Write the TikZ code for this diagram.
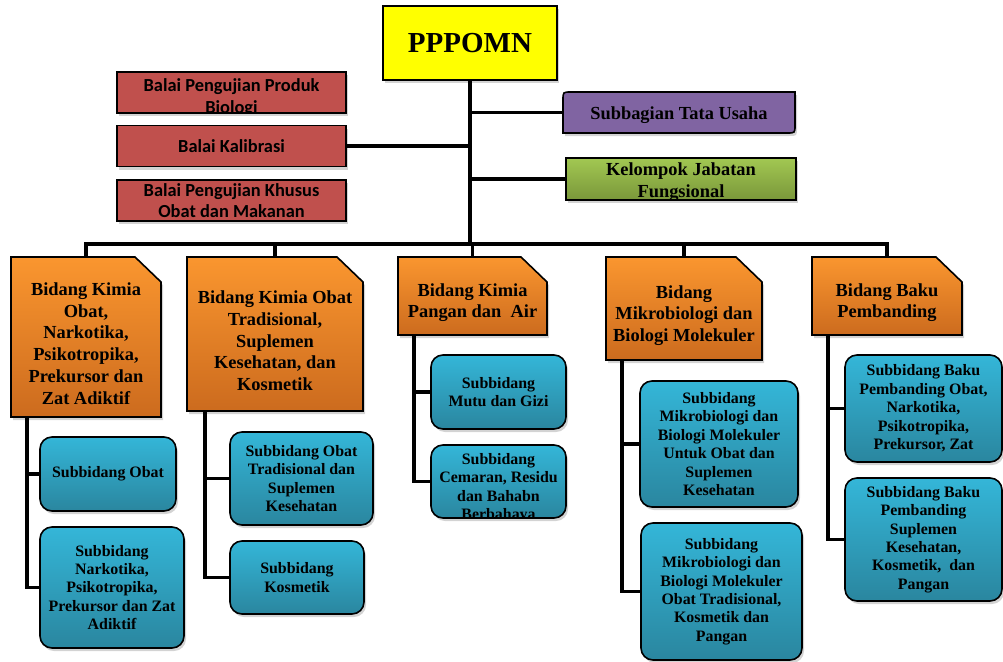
\documentclass[tikz,border=0pt]{standalone}
\usepackage{fontspec}
\setmainfont{Liberation Serif}
\newfontfamily\balaifont{Carlito}
\usetikzlibrary{shadows,backgrounds}

\definecolor{kuning}{HTML}{FFFF00}
\definecolor{merah}{HTML}{C0504D}
\definecolor{ungu}{HTML}{8064A2}
\definecolor{hijauatas}{HTML}{A2C852}
\definecolor{hijaubawah}{HTML}{7A973A}
\definecolor{oranyeatas}{HTML}{FA962F}
\definecolor{oranyebawah}{HTML}{CC6B1E}
\definecolor{biruatas}{HTML}{34B6D8}
\definecolor{birubawah}{HTML}{2A869F}

\begin{document}
\begin{tikzpicture}[x=1pt, y=-1pt,
    bayang/.style={drop shadow={shadow xshift=2pt, shadow yshift=-3pt, opacity=0.35}},
    box/.style={draw=black, line width=1.6pt, inner sep=2pt, align=center, bayang},
    topbox/.style={box, fill=kuning, minimum width=174pt, minimum height=74pt,
        font=\fontsize{29}{34}\selectfont\bfseries},
    balaibox/.style={box, fill=merah, minimum width=229pt, minimum height=41pt,
        font=\balaifont\fontsize{18.4}{21.7}\selectfont\bfseries},
    tatabox/.style={inner sep=2pt, outer sep=0pt, minimum width=232pt, minimum height=41pt,
        text height=18.5pt, font=\fontsize{18.4}{21.7}\selectfont\bfseries},
    tatabg/.style={fill=ungu, draw=black, line width=1.6pt, bayang},
    kjfbox/.style={box, top color=hijauatas, bottom color=hijaubawah,
        minimum width=230pt, minimum height=42pt},
    judul/.style={align=center, inner sep=0pt, font=\fontsize{18.4}{21.7}\selectfont\bfseries},
    bidang/.style={inner sep=0pt, outer sep=0pt, minimum height=78pt},
    bidangbg/.style={draw=black, line width=1.6pt, top color=oranyeatas,
        bottom color=oranyebawah, bayang},
    subbid/.style={box, rounded corners=12pt, top color=biruatas, bottom color=birubawah,
        font=\fontsize{15.9}{18.4}\selectfont\bfseries},
    line/.style={draw=black, line width=3.6pt}
]
\useasboundingbox (0,0) rectangle (1003,661);

\node[topbox] (top) at (470,43) {PPPOMN};

\node[balaibox, path picture={\node[anchor=north, align=center, inner sep=0pt] (balai1txt)
    at ([yshift=-4pt]path picture bounding box.north) {Balai Pengujian Produk\\Biologi};}]
    (balai1) at (231.5,92.5) {};
\node[balaibox] (balai2) at (231.5,146) {Balai Kalibrasi};
\node[balaibox] (balai3) at (231.5,200.5) {Balai Pengujian Khusus\\Obat dan Makanan};

\node[tatabox] (tata) at (679,112.5) {Subbagian Tata Usaha};
\node[kjfbox, path picture={\node[judul] (kjftxt)
    at ([yshift=-3pt]path picture bounding box.center) {Kelompok Jabatan\\Fungsional};}]
    (kjf) at (681,179) {};

\node[bidang, minimum width=150pt, minimum height=160pt] (b1) at (86,337) {};
\node[bidang, minimum width=176pt, minimum height=154pt] (b2) at (275,334) {};
\node[bidang, minimum width=149pt] (b3) at (472.5,296) {};
\node[bidang, minimum width=156pt, minimum height=103pt] (b4) at (684,308.5) {};
\node[bidang, minimum width=150pt] (b5) at (887,296) {};

\begin{scope}[on background layer]
\path[tatabg] (tata.south west) -- ([yshift=-8pt]tata.north west)
    .. controls (tata.north west) .. ([xshift=8pt]tata.north west)
    -- (tata.north east) -- ([yshift=8pt]tata.south east)
    .. controls (tata.south east) .. ([xshift=-8pt]tata.south east) -- cycle;
\foreach \b in {b1,b2,b3,b4,b5}
    \path[bidangbg] (\b.south west) -- (\b.north west) -- ([xshift=-26pt]\b.north east)
        -- ([yshift=-25pt]\b.north east) -- (\b.south east) -- cycle;
\end{scope}

\node[judul] (b1txt) at ([yshift=-6.5pt]b1.center)
    {Bidang Kimia\\Obat,\\Narkotika,\\Psikotropika,\\Prekursor dan\\Zat Adiktif};
\node[judul] (b2txt) at ([yshift=-7pt]b2.center)
    {Bidang Kimia Obat\\Tradisional,\\Suplemen\\Kesehatan, dan\\Kosmetik};
\node[judul] (b3txt) at ([yshift=-6.5pt]b3.center)
    {Bidang Kimia\\Pangan dan\ \ Air};
\node[judul] (b4txt) at ([yshift=-7pt]b4.center)
    {Bidang\\Mikrobiologi dan\\Biologi Molekuler};
\node[judul] (b5txt) at ([yshift=-6.5pt]b5.center)
    {Bidang Baku\\Pembanding};

\node[subbid, minimum width=136pt, minimum height=74pt] (s11) at (108,474)
    {Subbidang Obat};
\node[subbid, minimum width=144pt, minimum height=121pt] (s12) at (112,587.5)
    {Subbidang\\Narkotika,\\Psikotropika,\\Prekursor dan Zat\\Adiktif};
\node[subbid, minimum width=143pt, minimum height=93pt] (s21) at (301.5,478.5)
    {Subbidang Obat\\Tradisional dan\\Suplemen\\Kesehatan};
\node[subbid, minimum width=134pt, minimum height=73pt] (s22) at (297,577.5)
    {Subbidang\\Kosmetik};
\node[subbid, minimum width=135pt, minimum height=74pt] (s31) at (498.5,392)
    {Subbidang\\Mutu dan Gizi};
\node[subbid, minimum width=135pt, minimum height=73pt,
    path picture={\node[anchor=north, align=center, inner sep=0pt] (s32txt)
    at ([yshift=-6pt]path picture bounding box.north)
    {Subbidang\\Cemaran, Residu\\dan Bahabn\\Berbahaya};}] (s32) at (498.5,481.5) {};
\node[subbid, minimum width=158pt, minimum height=126pt] (s41) at (719,444)
    {Subbidang\\Mikrobiologi dan\\Biologi Molekuler\\Untuk Obat dan\\Suplemen\\Kesehatan};
\node[subbid, minimum width=161pt, minimum height=137pt] (s42) at (721.5,591.5)
    {Subbidang\\Mikrobiologi dan\\Biologi Molekuler\\Obat Tradisional,\\Kosmetik dan\\Pangan};
\node[subbid, minimum width=157pt, minimum height=107pt] (s51) at (923.5,408.5)
    {Subbidang Baku\\Pembanding Obat,\\Narkotika,\\Psikotropika,\\Prekursor, Zat};
\node[subbid, minimum width=157pt, minimum height=123pt] (s52) at (923.5,539.5)
    {Subbidang Baku\\Pembanding\\Suplemen\\Kesehatan,\\Kosmetik,\ \ dan\\Pangan};

\coordinate (bus) at (470,244);
\path[line] (top.south) -- (bus);
\path[line] (balai2.east) -- (balai2.east -| top.south);
\path[line] (tata.west) -- (tata.west -| top.south);
\path[line] (kjf.west) -- (kjf.west -| top.south);
\path[line] (b1.north) |- (bus) -| (b5.north);
\foreach \b in {b2,b3,b4}
    \path[line] (\b.north) -- (\b.north |- bus);

\path[line] ([xshift=16pt]b1.south west) |- (s11.west);
\path[line] ([xshift=16pt]b1.south west) |- (s12.west);
\path[line] ([xshift=18pt]b2.south west) |- (s21.west);
\path[line] ([xshift=18pt]b2.south west) |- (s22.west);
\path[line] ([xshift=16pt]b3.south west) |- (s31.west);
\path[line] ([xshift=16pt]b3.south west) |- (s32.west);
\path[line] ([xshift=16pt]b4.south west) |- (s41.west);
\path[line] ([xshift=16pt]b4.south west) |- (s42.west);
\path[line] ([xshift=16pt]b5.south west) |- (s51.west);
\path[line] ([xshift=16pt]b5.south west) |- (s52.west);
\end{tikzpicture}
\end{document}
